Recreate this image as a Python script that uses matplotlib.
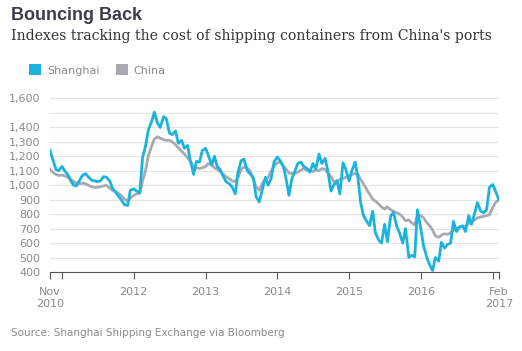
"""Bouncing Back: Shanghai vs China container freight indexes, Nov 2010 - Feb 2017."""
import matplotlib
matplotlib.use("Agg")
import matplotlib.pyplot as plt
from matplotlib.patches import Patch
from matplotlib.ticker import FixedLocator, FuncFormatter
import pandas as pd

# Palette
SHANGHAI = "#1ab3de"
CHINA = "#a9a9b1"
TITLE = "#3c3c4a"
TEXT = "#333333"
MUTED = "#8a8a8a"
GRID = "#e4e4e4"
AXIS = "#555555"

# Semi-monthly readings, 1 Nov 2010 .. 1 Feb 2017
dates = pd.date_range("2010-11-01", periods=151, freq="SMS")

shanghai = [
    1240, 1180, 1110, 1100, 1130, 1100, 1070, 1030, 1000, 995,
    1035, 1068, 1080, 1058, 1035, 1030, 1025, 1030, 1060, 1055,
    1030, 980, 950, 925, 895, 865, 860, 965, 975, 960,
    950, 1190, 1270, 1380, 1440, 1505, 1430, 1400, 1475, 1460,
    1360, 1350, 1375, 1290, 1310, 1255, 1275, 1170, 1075, 1165,
    1160, 1240, 1255, 1205, 1140, 1200, 1130, 1110, 1060, 1025,
    1010, 990, 940, 1090, 1170, 1180, 1100, 1080, 1050, 920,
    885, 960, 1055, 1000, 1050, 1160, 1195, 1170, 1130, 1040,
    930, 1040, 1100, 1150, 1160, 1130, 1115, 1090, 1150, 1110,
    1215, 1150, 1185, 1100, 960, 1000, 1030, 940, 1155, 1110,
    1030, 1100, 1160, 1050, 880, 790, 750, 720, 820, 670,
    620, 600, 730, 610, 790, 810, 715, 670, 600, 700,
    500, 515, 505, 830, 700, 580, 500, 450, 410, 500,
    475, 605, 565, 590, 600, 750, 680, 710, 720, 680,
    790, 730, 805, 880, 820, 810, 830, 985, 1005, 960,
    900,
]

china = [
    1110, 1090, 1075, 1068, 1070, 1065, 1055, 1040, 1025, 1015,
    1010, 1015, 1010, 1000, 990, 985, 985, 990, 995, 1000,
    980, 965, 955, 945, 925, 905, 890, 910, 930, 940,
    945, 1030, 1100, 1200, 1270, 1320, 1335, 1325, 1315, 1310,
    1310, 1300, 1280, 1260, 1235, 1215, 1190, 1165, 1130, 1120,
    1115, 1120, 1130, 1150, 1140, 1120, 1110, 1095, 1075, 1060,
    1045, 1030, 1025, 1055, 1110, 1125, 1120, 1100, 1040, 990,
    965, 1010, 1040, 1055, 1100, 1130, 1155, 1160, 1130, 1110,
    1085, 1080, 1085, 1090, 1105, 1115, 1105, 1100, 1095, 1105,
    1100, 1115, 1110, 1085, 1060, 1025, 1030, 1040, 1045, 1055,
    1065, 1075, 1080, 1075, 1040, 1010, 970, 940, 905, 890,
    870, 850, 835, 850, 830, 820, 810, 800, 780, 755,
    760, 740, 725, 790, 790, 775, 740, 720, 690, 650,
    640, 655, 665, 660, 670, 690, 700, 710, 715, 715,
    735, 745, 760, 775, 780, 785, 790, 795, 845, 880,
    900,
]

y_ticks = list(range(400, 1700, 100))
x_ticks = pd.to_datetime(["2010-11-01", "2011-01-01", "2012-01-01", "2013-01-01",
                          "2014-01-01", "2015-01-01", "2016-01-01", "2017-01-01",
                          "2017-02-01"])
x_labels = ["Nov\n2010", "", "2012", "2013", "2014", "2015", "2016", "", "Feb\n2017"]

fig = plt.figure(figsize=(5.22, 3.51), dpi=100, facecolor="white")
ax = fig.add_axes([50 / 522, 79 / 351, 449 / 522, 175 / 351])

ax.plot(dates, china, color=CHINA, linewidth=2.0, solid_joinstyle="round")
ax.plot(dates, shanghai, color=SHANGHAI, linewidth=2.0, solid_joinstyle="round")

ax.set_xlim(pd.Timestamp("2010-11-01"), pd.Timestamp("2017-02-02"))
ax.set_ylim(400, 1610)

# y axis: gridlines every 100, the 1,500 label is left off in the original
ax.yaxis.set_major_locator(FixedLocator(y_ticks))
ax.yaxis.set_major_formatter(FuncFormatter(lambda v, _: "" if v == 1500 else f"{v:,.0f}"))
ax.tick_params(axis="y", length=0, pad=7, labelsize=8, labelcolor=MUTED)
ax.grid(axis="y", color=GRID, linewidth=0.8)
ax.set_axisbelow(True)

ax.set_xticks(x_ticks)
ax.set_xticklabels(x_labels)
ax.tick_params(axis="x", direction="out", length=5, width=0.8, color=AXIS,
               pad=6, labelsize=8, labelcolor=MUTED)

for side in ("left", "right", "top"):
    ax.spines[side].set_visible(False)
ax.spines["bottom"].set_color(AXIS)
ax.spines["bottom"].set_linewidth(0.8)

# Titles
fig.text(11 / 522, 1 - 7 / 351, "Bouncing Back", fontsize=13, fontweight="bold",
         family="Liberation Sans", color=TITLE, ha="left", va="top")
fig.text(11 / 522, 1 - 29 / 351,
         "Indexes tracking the cost of shipping containers from China's ports",
         fontsize=10.1, family="DejaVu Serif", color=TEXT, ha="left", va="top")

handles = [Patch(facecolor=SHANGHAI, edgecolor="none", label="Shanghai"),
           Patch(facecolor=CHINA, edgecolor="none", label="China")]
fig.legend(handles=handles, loc="center left", bbox_to_anchor=(19 / 522, 1 - 70 / 351),
           ncol=2, frameon=False, fontsize=8, labelcolor=MUTED,
           handlelength=1.1, handleheight=1.1, handletextpad=0.5, columnspacing=1.5)

fig.text(11 / 522, 1 - 333 / 351, "Source: Shanghai Shipping Exchange via Bloomberg",
         fontsize=7.5, color=MUTED, ha="left", va="center")

fig.savefig("out.png", dpi=100, facecolor="white")
